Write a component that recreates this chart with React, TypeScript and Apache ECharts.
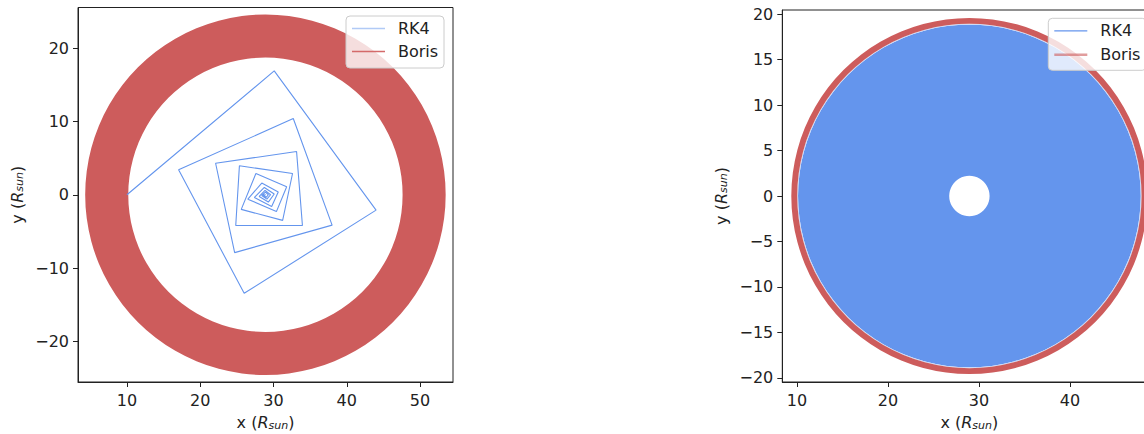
import React, { useEffect, useRef } from "react";
import * as echarts from "echarts";

// ---- data ----
// Left panel: RK4 trajectory vertices (spiral)
const leftRK4X = [10, 30.1, 44.0, 26.0, 17.05, 32.7, 38.0, 24.7, 22.1, 33.15, 33.95, 24.85, 25.35, 32.6, 31.25, 25.6, 27.6, 31.8, 30.4, 26.5, 28.4, 30.65, 29.75, 27.4, 28.75, 30.1, 29.3, 28.05, 28.85, 29.6, 29.1, 28.4, 28.9, 29.3, 29.0, 28.6, 28.95];
const leftRK4Y = [0, 16.9, -2.1, -13.45, 3.4, 10.4, -4.15, -7.9, 4.3, 5.9, -4.2, -4.2, 3.95, 2.9, -3.5, -2.0, 2.9, 1.1, -2.3, -0.6, 1.6, 0.37, -1.6, -0.37, 1.0, 0.1, -1.0, -0.23, 0.6, 0.0, -0.6, -0.1, 0.35, 0.0, -0.35, -0.05, 0];
// Left panel: Boris orbit band [centerX, centerY, innerR, outerR]
const leftBorisBand = [28.9, 0, 18.72, 24.6];
// Right panel: RK4 filled band and Boris band [centerX, centerY, innerR, outerR]
const rightRK4Band = [28.95, 0, 2.22, 18.84];
const rightSeamBand = [28.95, 0, 18.84, 18.93];
const rightBorisBand = [28.95, 0, 18.93, 19.58];
// Axis ranges and ticks
const leftXRange = [3.32, 54.5];
const leftYRange = [-25.56, 25.56];
const rightXRange = [8.38, 49.5];
const rightYRange = [-20.46, 20.46];
const leftXTicks = [10, 20, 30, 40, 50];
const leftYTicks = [-20, -10, 0, 10, 20];
const rightXTicks = [10, 20, 30, 40];
const rightYTicks = [-20, -15, -10, -5, 0, 5, 10, 15, 20];
const seriesNames = ["RK4", "Boris"];

const RK4_COLOR = "#6495ED";
const BORIS_COLOR = "#CD5C5C";
const FONT = "DejaVu Sans";
const INK = "#222222";
const FS = 16;

const fmt = (v: number) => (v < 0 ? "\u2212" + Math.abs(v) : String(v));

const richName = {
  i: { fontStyle: "italic", fontSize: FS, fontFamily: FONT, color: INK },
  s: { fontStyle: "italic", fontSize: 11, fontFamily: FONT, color: INK, verticalAlign: "bottom", lineHeight: 10, padding: [7, 0, 0, 0] },
};

function makeAxis(gridIndex: number, range: number[], ticks: number[], name: string, isX: boolean) {
  return {
    gridIndex,
    type: "value",
    min: range[0],
    max: range[1],
    axisLine: { show: true, onZero: false, lineStyle: { color: INK, width: 1 } },
    axisTick: { show: true, length: 5, customValues: ticks, lineStyle: { color: INK, width: 1 } },
    axisLabel: {
      customValues: ticks,
      formatter: fmt,
      fontSize: FS,
      fontFamily: FONT,
      color: INK,
      margin: isX ? 10 : 9,
    },
    splitLine: { show: false },
    name,
    nameLocation: "middle",
    nameGap: isX ? 32 : 53,
    nameTextStyle: { fontSize: FS, fontFamily: FONT, color: INK, rich: richName },
  };
}

function ringSeries(name: string, band: number[], color: string, idx: number, z: number) {
  return {
    type: "custom",
    name,
    xAxisIndex: idx,
    yAxisIndex: idx,
    clip: true,
    z,
    encode: { x: 0, y: 1 },
    data: [band],
    renderItem: (params: any, api: any) => {
      const c = api.coord([api.value(0), api.value(1)]);
      const r0 = api.size([api.value(2), 0])[0];
      const r = api.size([api.value(3), 0])[0];
      return {
        type: "ring",
        shape: { cx: c[0], cy: c[1], r, r0 },
        style: { fill: color },
      };
    },
  };
}

function legendGraphics(x: number, y: number, rowGap: number, rk4Style: any, borisStyle: any) {
  const lineX0 = x + 6;
  const lineX1 = x + 39;
  const textX = x + 52;
  const y1 = y + 12.5;
  const y2 = y1 + rowGap;
  return [
    {
      type: "rect",
      z: 100,
      shape: { x, y, width: 98, height: 52, r: 4 },
      style: { fill: "rgba(255,255,255,0.8)", stroke: "#cccccc", lineWidth: 1 },
    },
    { type: "line", z: 101, shape: { x1: lineX0, y1, x2: lineX1, y2: y1 }, style: rk4Style },
    { type: "line", z: 101, shape: { x1: lineX0, y1: y2, x2: lineX1, y2 }, style: borisStyle },
    {
      type: "text", z: 101, x: textX, y: y1,
      style: { text: seriesNames[0], fontSize: FS, fontFamily: FONT, fill: INK, verticalAlign: "middle", align: "left" },
    },
    {
      type: "text", z: 101, x: textX, y: y2,
      style: { text: seriesNames[1], fontSize: FS, fontFamily: FONT, fill: INK, verticalAlign: "middle", align: "left" },
    },
  ];
}

export default function App() {
  const ref = useRef<HTMLDivElement>(null);
  useEffect(() => {
    if (!ref.current) return;
    const chart = echarts.init(ref.current, null, { renderer: "svg" });
    const xName = "x ({i|R}{s|sun})";
    const yName = "y ({i|R}{s|sun})";
    const option: any = {
      animation: false,
      backgroundColor: "#ffffff",
      grid: [
        { left: 78, top: 7.5, width: 375, height: 374.5, show: true, borderColor: INK, borderWidth: 1, outerBoundsMode: "none" },
        { left: 782.3, top: 10, width: 374, height: 372, show: true, borderColor: INK, borderWidth: 1, outerBoundsMode: "none" },
      ],
      xAxis: [
        makeAxis(0, leftXRange, leftXTicks, xName, true),
        makeAxis(1, rightXRange, rightXTicks, xName, true),
      ],
      yAxis: [
        makeAxis(0, leftYRange, leftYTicks, yName, false),
        makeAxis(1, rightYRange, rightYTicks, yName, false),
      ],
      series: [
        ringSeries(seriesNames[1], leftBorisBand, BORIS_COLOR, 0, 2),
        {
          type: "line",
          name: seriesNames[0],
          xAxisIndex: 0,
          yAxisIndex: 0,
          showSymbol: false,
          symbol: "none",
          z: 3,
          lineStyle: { color: RK4_COLOR, width: 1.1 },
          data: leftRK4X.map((x, i) => [x, leftRK4Y[i]]),
        },
        ringSeries(seriesNames[0], rightRK4Band, RK4_COLOR, 1, 2),
        ringSeries("seam", rightSeamBand, "#c9d8f7", 1, 2),
        ringSeries(seriesNames[1], rightBorisBand, BORIS_COLOR, 1, 3),
      ],
      graphic: [
        ...legendGraphics(346, 16, 23, { stroke: "rgba(100,149,237,0.5)", lineWidth: 1.5 }, { stroke: "#d46a6a", lineWidth: 1.5 }),
        ...legendGraphics(1048.3, 18.3, 24, { stroke: RK4_COLOR, lineWidth: 1.2 }, { stroke: "rgba(205,92,92,0.6)", lineWidth: 2.5 }),
      ],
    };
    chart.setOption(option);
    return () => chart.dispose();
  }, []);
  return <div ref={ref} style={{ position: "fixed", left: 0, top: 0, width: 1144, height: 434 }} />;
}
